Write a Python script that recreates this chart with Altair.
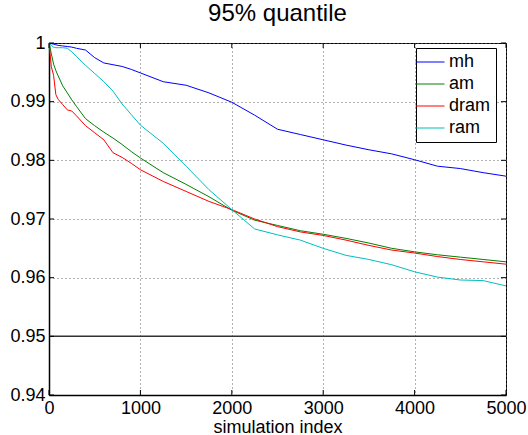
import altair as alt
import pandas as pd

# ---------------- data ----------------
x_index = [0, 25, 50, 75, 100, 150, 200, 250, 300, 400, 500, 600, 700, 800, 900, 1000,
           1250, 1500, 1750, 2000, 2250, 2500, 2750, 3000, 3250, 3500, 3750, 4000,
           4250, 4500, 4750, 5000]

mh = [1.0, 0.9999, 0.9998, 0.9997, 0.9996, 0.9995, 0.9994, 0.9993, 0.9991, 0.9988,
      0.9975, 0.9966, 0.9963, 0.9960, 0.9955, 0.9949,
      0.9934, 0.9928, 0.9915, 0.9899, 0.9877, 0.9853, 0.9844, 0.9835, 0.9826,
      0.9818, 0.9811, 0.9801, 0.9790, 0.9786, 0.9779, 0.9773]

am = [1.0, 0.9982, 0.9964, 0.9953, 0.9944, 0.9927, 0.9915, 0.9903, 0.9892, 0.9871,
      0.9859, 0.9848, 0.9838, 0.9827, 0.9815, 0.9804,
      0.9779, 0.9759, 0.9738, 0.9715, 0.9698, 0.9689, 0.9680, 0.9674, 0.9667,
      0.9659, 0.9650, 0.9644, 0.9639, 0.9635, 0.9631, 0.9627]

dram = [1.0, 0.9960, 0.9945, 0.9912, 0.9904, 0.9895, 0.9886, 0.9884, 0.9876, 0.9859,
        0.9847, 0.9835, 0.9813, 0.9805, 0.9795, 0.9784,
        0.9764, 0.9747, 0.9730, 0.9716, 0.9700, 0.9687, 0.9678, 0.9672, 0.9664,
        0.9655, 0.9647, 0.9642, 0.9636, 0.9631, 0.9627, 0.9623]

ram = [1.0, 0.9996, 0.9993, 0.9992, 0.9992, 0.9992, 0.9991, 0.9985, 0.9977, 0.9962,
       0.9948, 0.9934, 0.9918, 0.9896, 0.9878, 0.9860,
       0.9829, 0.9790, 0.9750, 0.9716, 0.9683, 0.9673, 0.9664, 0.9650, 0.9638,
       0.9631, 0.9622, 0.9610, 0.9601, 0.9596, 0.9595, 0.9586]

series_names = ["mh", "am", "dram", "ram"]
series_colors = ["#0000ff", "#008000", "#ff0000", "#00bfbf"]
x_ticks = [0, 1000, 2000, 3000, 4000, 5000]
y_ticks = [0.94, 0.95, 0.96, 0.97, 0.98, 0.99, 1.0]
ref_level = [0.95]

rows = []
for name, vals in zip(series_names, [mh, am, dram, ram]):
    for xv, v in zip(x_index, vals):
        rows.append({"index": xv, "value": v, "series": name})
df = pd.DataFrame(rows)
xt = pd.DataFrame({"t": x_ticks})
yt = pd.DataFrame({"t": y_ticks})
ref = pd.DataFrame({"level": ref_level})

W, H = 457, 352
FONT = "Liberation Sans"
TL = 5  # inward tick length

xs = alt.Scale(domain=[0, 5000], nice=False)
ys = alt.Scale(domain=[0.94, 1.0], nice=False, zero=False)

lines = alt.Chart(df).mark_line(strokeWidth=1, clip=True).encode(
    x=alt.X("index:Q", scale=xs,
            axis=alt.Axis(values=x_ticks, title="simulation index", format="d",
                          labelPadding=4, titleBaseline="alphabetic", titleY=37)),
    y=alt.Y("value:Q", scale=ys,
            axis=alt.Axis(values=y_ticks, title=None, format=".2~f", labelPadding=4)),
    color=alt.Color("series:N",
                    scale=alt.Scale(domain=series_names, range=series_colors),
                    legend=alt.Legend(title=None, orient="none", legendX=367, legendY=5,
                                      strokeColor="black", fillColor="white", padding=5,
                                      labelFontSize=18, labelFont=FONT, labelColor="black",
                                      symbolType="M-2.9,0H2.9", symbolSize=100,
                                      symbolStrokeWidth=1, rowPadding=4, labelOffset=10)),
)

ref_rule = alt.Chart(ref).mark_rule(color="#333333", strokeWidth=1.5).encode(
    y=alt.Y("level:Q", scale=ys)
)

tick_bottom = alt.Chart(xt).mark_rule(color="black", strokeWidth=1).encode(
    x=alt.X("t:Q", scale=xs), y=alt.value(H), y2=alt.value(H - TL))
tick_top = alt.Chart(xt).mark_rule(color="black", strokeWidth=1).encode(
    x=alt.X("t:Q", scale=xs), y=alt.value(0), y2=alt.value(TL))
tick_left = alt.Chart(yt).mark_rule(color="black", strokeWidth=1).encode(
    y=alt.Y("t:Q", scale=ys), x=alt.value(0), x2=alt.value(TL))
tick_right = alt.Chart(yt).mark_rule(color="black", strokeWidth=1).encode(
    y=alt.Y("t:Q", scale=ys), x=alt.value(W - TL), x2=alt.value(W))

chart = alt.layer(ref_rule, lines, tick_bottom, tick_top, tick_left, tick_right).properties(
    width=W, height=H,
    background="white",
    autosize=alt.AutoSizeParams(type="none"),
    padding={"left": 49, "top": 43, "right": 22, "bottom": 40},
    title=alt.TitleParams("95% quantile", fontSize=24, font=FONT, fontWeight="normal",
                          anchor="middle", frame="group", color="black", offset=8),
).configure_view(
    stroke="black", strokeWidth=1
).configure_axis(
    grid=True, gridDash=[1, 3], gridColor="#666666", gridWidth=1, gridOpacity=1,
    ticks=False, domain=True, domainColor="black", domainWidth=1.5,
    labelFont=FONT, labelFontSize=18, labelColor="black", labelOverlap=False,
    labelFlush=False, titleFont=FONT, titleFontSize=18, titleFontWeight="normal",
    titleColor="black",
)

chart.save("out.html", embed_options={"renderer": "svg", "actions": False})
